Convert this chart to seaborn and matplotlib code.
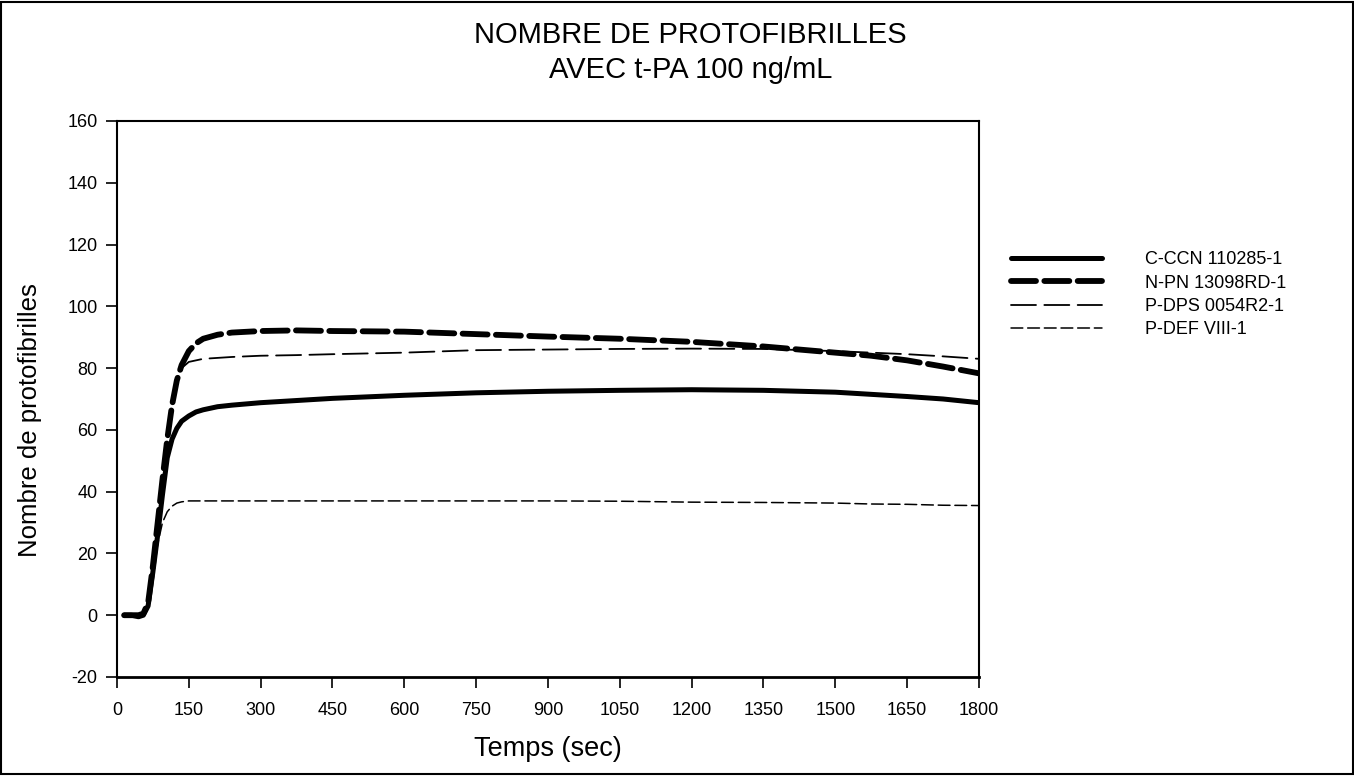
import matplotlib
matplotlib.use("Agg")
import matplotlib.pyplot as plt
import seaborn as sns
import pandas as pd
from matplotlib.patches import Rectangle

sns.set_style("white")
plt.rcParams['font.family'] = ['Liberation Sans', 'DejaVu Sans']
plt.rcParams['lines.scale_dashes'] = False
plt.rcParams['axes.unicode_minus'] = False
plt.rcParams['text.color'] = 'black'
plt.rcParams['axes.labelcolor'] = 'black'
plt.rcParams['xtick.color'] = 'black'
plt.rcParams['ytick.color'] = 'black'

time_s = [15, 30, 45, 55, 65, 75, 85, 95, 105, 115, 125, 135, 150, 165, 180, 210, 240,
          300, 375, 450, 600, 750, 900, 1050, 1200, 1350, 1500, 1575, 1650, 1725, 1800]

c_ccn = [0, 0, -0.5, 0, 3, 14, 26, 39, 51, 57, 60.5, 62.8, 64.5, 65.8, 66.5, 67.5, 68,
         68.8, 69.5, 70.2, 71.2, 72, 72.5, 72.8, 73, 72.8, 72.2, 71.5, 70.8, 70, 68.8]
n_pn = [0, 0, 0, 0.5, 4, 16, 30, 44, 57, 68, 76, 81, 85.5, 88, 89.5, 90.8, 91.5,
        92, 92.2, 92, 91.8, 91, 90.2, 89.5, 88.5, 87, 85, 84, 82.5, 80.5, 78.3]
p_dps = [0, 0, 0, 0.3, 3, 14, 28, 42, 56, 68, 76, 80, 82, 82.5, 83, 83.3, 83.6,
         84, 84.2, 84.5, 85, 85.8, 86, 86.2, 86.3, 86.2, 85.5, 85, 84.5, 83.8, 83]
p_def = [0, 0, 0, 0.3, 3, 13, 23, 30, 33.5, 35.3, 36.3, 36.7, 37, 37, 37, 37, 37,
         37, 37, 37, 37, 37, 37, 36.9, 36.6, 36.5, 36.3, 36, 35.9, 35.6, 35.5]

labels = ["C-CCN 110285-1", "N-PN 13098RD-1", "P-DPS 0054R2-1", "P-DEF VIII-1"]
series = [c_ccn, n_pn, p_dps, p_def]
widths = [3.6, 4.2, 1.3, 1.1]
styles = ['-', (0, (18, 6)), (0, (18, 6)), (0, (8.5, 3.5))]

x_ticks = list(range(0, 1801, 150))
y_ticks = list(range(-20, 161, 20))

fig = plt.figure(figsize=(13.54, 7.76), dpi=100)
ax = fig.add_axes([0.0864, 0.1276, 0.6366, 0.7165])

for lab, vals, lw, ls in zip(labels, series, widths, styles):
    df = pd.DataFrame({"t": time_s, "v": vals})
    sns.lineplot(data=df, x="t", y="v", ax=ax, color="black", linewidth=lw,
                 linestyle=ls, label=lab, legend=False, solid_capstyle='round',
                 dash_capstyle='round')

ax.set_xlim(0, 1800)
ax.set_ylim(-20, 160)
ax.set_xticks(x_ticks)
ax.set_yticks(y_ticks)
ax.tick_params(axis='both', direction='out', length=8, width=1.2, labelsize=13,
               colors='black', bottom=True, left=True, pad=6)
ax.tick_params(axis='x', pad=10)
for s in ax.spines.values():
    s.set_visible(True)
    s.set_color('black')
    s.set_linewidth(1.5)
ax.spines['bottom'].set_linewidth(2)

ax.set_xlabel("Temps (sec)", fontsize=19.5, labelpad=12)
ax.set_ylabel("Nombre de protofibrilles", fontsize=18.5)
ax.yaxis.set_label_coords(-0.087, 0.462)

fig.text(0.510, 0.955, "NOMBRE DE PROTOFIBRILLES", ha='center', va='center', fontsize=21)
fig.text(0.510, 0.91, "AVEC t-PA 100 ng/mL", ha='center', va='center', fontsize=21)

handles, labs = ax.get_legend_handles_labels()
fig.legend(handles, labs, loc='upper left', bbox_to_anchor=(0.735, 0.697),
           frameon=False, fontsize=13, handlelength=5.0, handletextpad=2.4,
           labelspacing=0.35)

fig.patches.append(Rectangle((0.001, 0.002), 0.998, 0.996, transform=fig.transFigure,
                             fill=False, edgecolor='black', linewidth=1.5))

fig.savefig("out.png", dpi=100)
